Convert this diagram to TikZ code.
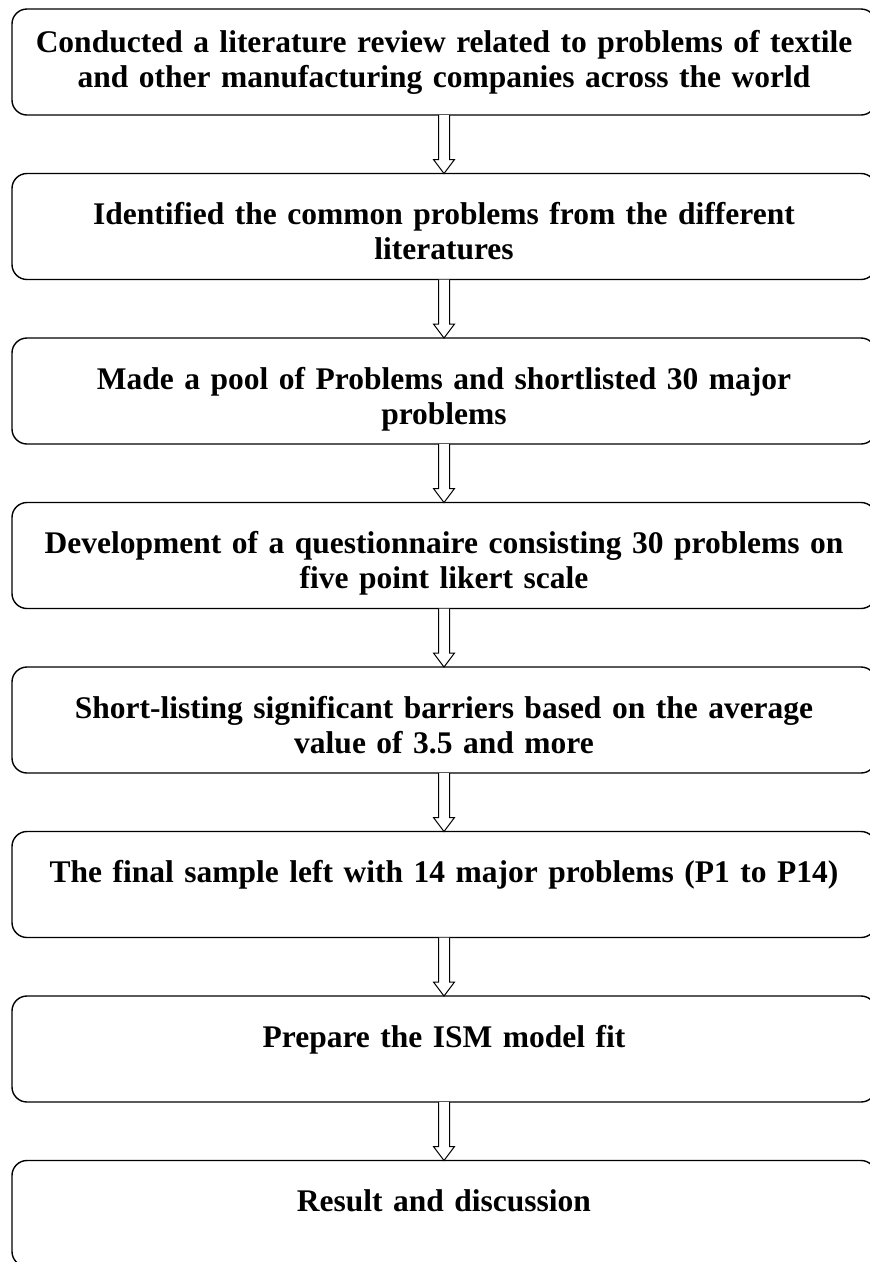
\documentclass[tikz,border=0pt]{standalone}
\usepackage{fontspec}
\setmainfont{Liberation Serif}
\usetikzlibrary{positioning,calc}

\begin{document}
\begin{tikzpicture}[
  x=1pt, y=1pt,
  stepbox/.style={draw=black, line width=1.4pt, rounded corners=15pt, text width=844pt, inner xsep=10pt, inner ysep=0pt, outer sep=0pt, align=center, text height=51pt, text depth=55pt, font=\fontsize{31.5}{35}\selectfont\bfseries},
  blockarr/.style={draw=black, line width=1pt, fill=white},
]
\useasboundingbox (0,0) rectangle (870,-1262);

\node[stepbox, text height=43pt, text depth=63pt] (b1) at (444,-62) {Conducted a literature review related to problems of textile\\and other manufacturing companies across the world};
\node[stepbox, below=58.5pt of b1] (b2) {Identified the common problems from the different\\literatures};
\node[stepbox, below=58.5pt of b2] (b3) {Made a pool of Problems and shortlisted 30 major\\problems};
\node[stepbox, below=58.5pt of b3] (b4) {Development of a questionnaire consisting 30 problems on\\five point likert scale};
\node[stepbox, below=58.5pt of b4] (b5) {Short-listing significant barriers based on the average\\value of 3.5 and more};
\node[stepbox, below=58.5pt of b5] (b6) {The final sample left with 14 major problems (P1 to P14)};
\node[stepbox, below=58.5pt of b6] (b7) {Prepare the ISM model fit};
\node[stepbox, below=58.5pt of b7] (b8) {Result and discussion};

% hollow arrows between the steps
\foreach \a/\b in {b1/b2,b2/b3,b3/b4,b4/b5,b5/b6,b6/b7,b7/b8}
  \draw[blockarr] ($(\a.south)+(-5.5,0)$) -- ($(\b.north)+(-5.5,14)$) -- ($(\b.north)+(-10.5,14)$) -- (\b.north) -- ($(\b.north)+(10.5,14)$) -- ($(\b.north)+(5.5,14)$) -- ($(\a.south)+(5.5,0)$);

\end{tikzpicture}
\end{document}
